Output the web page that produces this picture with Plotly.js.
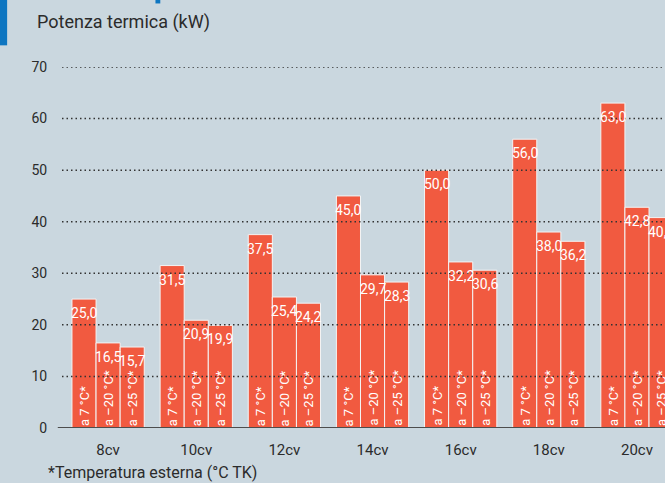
<!DOCTYPE html>
<html><head><meta charset="utf-8">
<script src="https://cdn.plot.ly/plotly-3.0.1.min.js"></script>
<style>html,body{margin:0;padding:0;background:#cad7df;}</style>
</head><body>
<div id="chart" style="width:665px;height:483px;"></div>
<script>
const categories = ["8cv","10cv","12cv","14cv","16cv","18cv","20cv"];
const seriesNames = ["a 7 °C*","a –20 °C*","a –25 °C*"];
const at7 = [25.0,31.5,37.5,45.0,50.0,56.0,63.0];
const atM20 = [16.5,20.9,25.4,29.7,32.2,38.0,42.8];
const atM25 = [15.7,19.9,24.2,28.3,30.6,36.2,40.8];
const yTicks = [0,10,20,30,40,50,60,70];

const FONT = 'Roboto, sans-serif';
const BAR = '#f15a40';
const DARK = '#2b2b2b';
const bargap = 0.18;
const series = [at7, atM20, atM25];

const fmt = v => v.toFixed(1).replace('.', ',');

const traces = series.map((vals, k) => ({
  type: 'bar',
  x: categories,
  y: vals,
  name: seriesNames[k],
  marker: {color: BAR, line: {color: '#f4f4f4', width: 1}},
  hoverinfo: 'skip'
}));

const barW = (1 - bargap) / 3;
const annotations = [];
series.forEach((vals, k) => {
  vals.forEach((v, i) => {
    const xc = i + (k - 1) * barW;
    annotations.push({
      x: xc, y: v, xref: 'x', yref: 'y',
      text: fmt(v), showarrow: false,
      yanchor: 'top', xanchor: 'center', yshift: -5, borderpad: 0,
      font: {family: FONT, size: 14, color: '#ffffff'}
    });
    annotations.push({
      x: xc, y: 0, xref: 'x', yref: 'y',
      text: seriesNames[k], showarrow: false, textangle: -90,
      yanchor: 'bottom', xanchor: 'center', yshift: 1, borderpad: 0,
      font: {family: FONT, size: 13, color: '#ffffff'}
    });
  });
});
annotations.push({
  xref: 'paper', yref: 'paper', x: -0.045, y: 1, yshift: 45, xanchor: 'left', yanchor: 'middle',
  text: 'Potenza termica (kW)', showarrow: false,
  font: {family: FONT, size: 18, color: DARK}
});
annotations.push({
  xref: 'paper', yref: 'paper', x: -0.027, y: 0, yshift: -44, xanchor: 'left', yanchor: 'middle',
  text: '*Temperatura esterna (°C TK)', showarrow: false,
  font: {family: FONT, size: 16, color: DARK}
});

const shapes = yTicks.filter(t => t > 0).map(t => ({
  type: 'line', xref: 'paper', yref: 'y', x0: 0, x1: 1, y0: t, y1: t,
  layer: 'above', line: {color: '#333333', width: 1.5, dash: '1.5px,3px'}
}));
shapes.push({type: 'line', xref: 'paper', yref: 'y', x0: -0.007, x1: 1, y0: 0, y1: 0,
  layer: 'above', line: {color: '#4d4d4d', width: 2}});
shapes.push({type: 'rect', xref: 'paper', yref: 'paper', x0: -0.103, x1: -0.091, y0: 1.06, y1: 1.23,
  layer: 'above', fillcolor: '#0e76c1', line: {width: 0}});
shapes.push({type: 'rect', xref: 'paper', yref: 'paper', x0: 0.155, x1: 0.163, y0: 1.176, y1: 1.19,
  layer: 'above', fillcolor: '#0e76c1', line: {width: 0}});

const layout = {
  width: 665, height: 483,
  margin: {l: 62, r: 0, t: 67, b: 55},
  paper_bgcolor: '#cad7df', plot_bgcolor: '#cad7df',
  barmode: 'group', bargap: bargap, bargroupgap: 0,
  showlegend: false,
  font: {family: FONT, color: DARK},
  xaxis: {
    type: 'category', range: [-0.523, 6.318], showgrid: false, zeroline: false,
    showline: false, ticks: 'outside', ticklen: 8, tickcolor: 'rgba(0,0,0,0)',
    tickfont: {family: FONT, size: 15, color: DARK}, fixedrange: true
  },
  yaxis: {
    range: [0, 70], tickvals: yTicks, showgrid: false, zeroline: false, showline: false,
    ticks: 'outside', ticklen: 11, tickcolor: 'rgba(0,0,0,0)',
    tickfont: {family: FONT, size: 14, color: DARK}, fixedrange: true
  },
  annotations: annotations,
  shapes: shapes
};

Plotly.newPlot('chart', traces, layout, {displayModeBar: false, staticPlot: true});
</script>
</body></html>
